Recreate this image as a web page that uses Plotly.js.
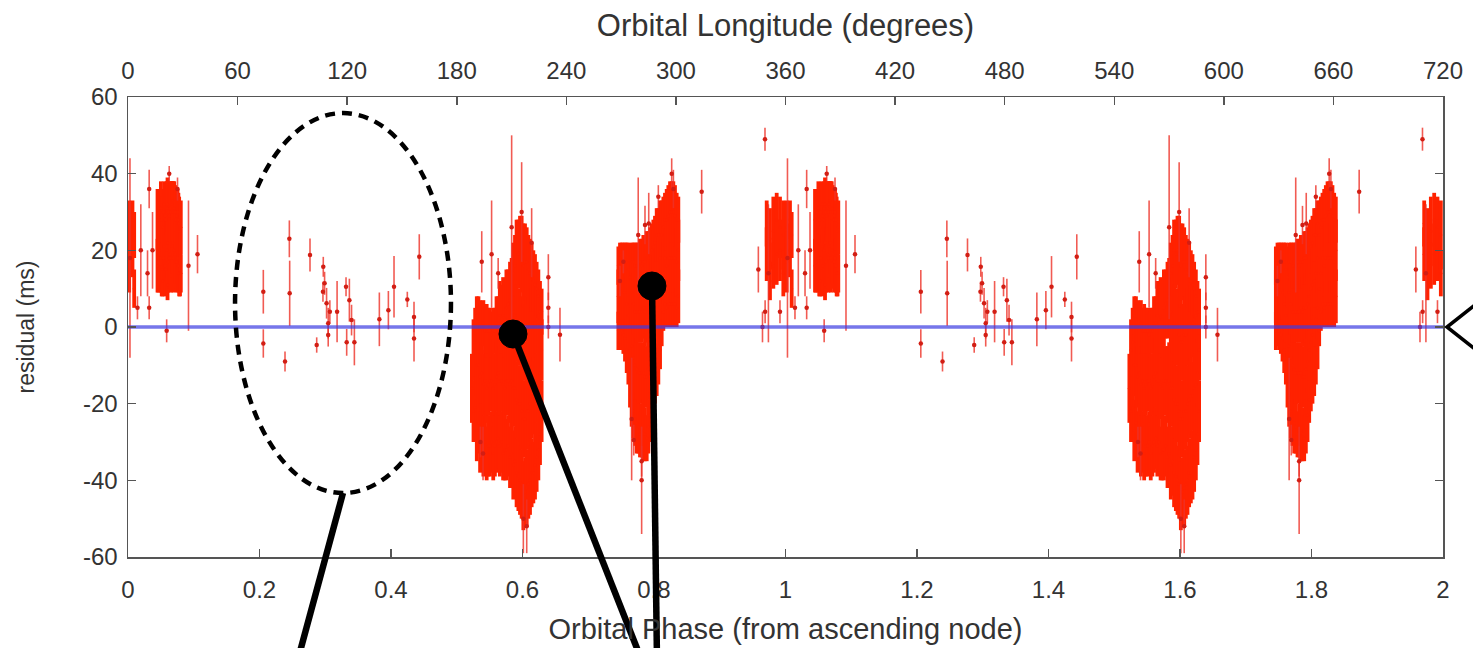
<!DOCTYPE html>
<html>
<head>
<meta charset="utf-8">
<script src="https://cdn.plot.ly/plotly-3.0.1.min.js"></script>
<style>
  html, body { margin: 0; padding: 0; background: #ffffff; }
  #chart { width: 1473px; height: 648px; }
</style>
</head>
<body>
<div id="chart"></div>
<script>
// ---------------- DATA (one orbital cycle, phase 0..1; the figure shows it twice) ----------------
// Densely sampled timing residuals (solid red masses)
const densePhase = [
  // cluster around phase 0 (wraps 0.97 .. 0.08)
  0.9714,0.9714, 0.9764,0.9764, 0.9815,0.9815, 0.9866,0.9866, 0.9916,0.9916, 0.9967,0.9967,
  0.0018,0.0018, 0.0068,0.0068, 0.0094,0.0094,
  0.0449,0.0449, 0.0462,0.0462, 0.0475,0.0475, 0.0500,0.0500, 0.0513,0.0513, 0.0526,0.0526,
  0.0538,0.0538, 0.0551,0.0551, 0.0563,0.0563, 0.0576,0.0576, 0.0589,0.0589,
  0.0601,0.0601,0.0601, 0.0614,0.0614, 0.0627,0.0627, 0.0640,0.0640, 0.0652,0.0652,
  0.0665,0.0665, 0.0678,0.0678, 0.0690,0.0690, 0.0703,0.0703, 0.0716,0.0716,
  0.0728,0.0728, 0.0741,0.0741, 0.0753,0.0753, 0.0766,0.0766, 0.0778,0.0778,
  0.0791,0.0791, 0.0803,0.0803,
  // cluster around phase 0.58
  0.523, 0.5255,0.5255, 0.528,0.528, 0.5305,0.5305,0.5305, 0.533,0.533,0.533,
  0.5355,0.5355,0.5355, 0.538,0.538,0.538, 0.5405,0.5405,0.5405, 0.543,0.543,0.543,
  0.5455,0.5455,0.5455, 0.548,0.548,0.548, 0.5505,0.5505,0.5505, 0.553,0.553,0.553,
  0.5555,0.5555,0.5555, 0.558,0.558,0.558, 0.5605,0.5605,0.5605, 0.563,0.563,0.563,
  0.5655,0.5655,0.5655, 0.568,0.568,0.568, 0.5705,0.5705,0.5705, 0.573,0.573,0.573,
  0.5755,0.5755,0.5755, 0.578,0.578,0.578, 0.581,0.581,0.581, 0.5835,0.5835,0.5835,
  0.586,0.586,0.586,0.586, 0.5886,0.5886,0.5886,0.5886, 0.591,0.591,0.591,0.591,
  0.5937,0.5937,0.5937,0.5937, 0.5962,0.5962,0.5962,0.5962, 0.5987,0.5987,0.5987,0.5987,
  0.6013,0.6013,0.6013,0.6013, 0.6038,0.6038,0.6038,0.6038, 0.6064,0.6064,0.6064,0.6064,
  0.6089,0.6089,0.6089,0.6089, 0.6114,0.6114,0.6114,0.6114, 0.6139,0.6139,0.6139,0.6139,
  0.6165,0.6165,0.6165,0.6165, 0.619,0.619,0.619,0.619, 0.6215,0.6215,0.6215,0.6215,
  0.6241,0.6241,0.6241,0.6241, 0.6266,0.6266,0.6266, 0.6291,0.6291,0.6291,
  // cluster around phase 0.79
  0.7458,0.7458,0.7458, 0.7483,0.7483,0.7483, 0.7508,0.7508,0.7508, 0.7534,0.7534,0.7534,
  0.7559,0.7559,0.7559, 0.7585,0.7585,0.7585, 0.761,0.761,0.761, 0.7635,0.7635,0.7635,
  0.766,0.766,0.766,0.766, 0.7686,0.7686,0.7686,0.7686, 0.7711,0.7711,0.7711,0.7711,
  0.7737,0.7737,0.7737,0.7737, 0.7762,0.7762,0.7762,0.7762, 0.7787,0.7787,0.7787,0.7787,
  0.7812,0.7812,0.7812,0.7812, 0.7838,0.7838,0.7838,0.7838, 0.7863,0.7863,0.7863,0.7863,
  0.7889,0.7889,0.7889,0.7889, 0.7914,0.7914,0.7914,0.7914, 0.794,0.794,0.794,0.794,
  0.7965,0.7965,0.7965,0.7965, 0.799,0.799,0.799,0.799, 0.8015,0.8015,0.8015,0.8015,
  0.8041,0.8041,0.8041,0.8041, 0.8066,0.8066,0.8066,0.8066, 0.8092,0.8092,0.8092,0.8092,
  0.8117,0.8117,0.8117, 0.8142,0.8142,0.8142, 0.8167,0.8167,0.8167, 0.8193,0.8193,0.8193,
  0.8218,0.8218,0.8218, 0.8244,0.8244,0.8244, 0.8269,0.8269,0.8269, 0.8294,0.8294,0.8294,
  0.8319,0.8319,0.8319, 0.8345,0.8345,0.8345, 0.837,0.837,0.837
];
const denseResid = [
  27,19, 23,12, 25,16, 28,19, 26,20, 24,14,
  26,17, 28,20, 24,10,
  28,16, 29,17, 30,20, 31,18, 28,15, 26,12,
  30,18, 32,21, 29,16, 28,15, 31,20,
  32,22,11, 30,17, 29,18, 31,19, 30,18,
  32,21, 33,22, 30,18, 31,20, 30,19,
  28,17, 29,17, 30,18, 28,16, 27,14,
  25,14, 26,14,

  -16, -22,-6, -21,-4, -27,-10,3, -25,-10,2,
  -30,-13,0, -28,-12,0, -31,-15,1, -30,-14,-1,
  -33,-16,-1, -31,-15,-1, -31,-14,-1, -30,-14,-2,
  -33,-16,-1, -31,-15,-1, -30,-13,1, -29,-12,1,
  -31,-14,3, -30,-14,2, -33,-15,3, -32,-16,2,
  -32,-14,5, -31,-14,6, -34,-15,7, -33,-14,8,
  -36,-16,4,14, -35,-16,3,16, -38,-19,1,20,
  -39,-20,0,19, -40,-20,0,20, -41,-22,-2,19,
  -44,-24,-4,16, -43,-24,-4,17, -42,-22,-2,17,
  -41,-22,-2,15, -40,-20,0,14, -38,-19,0,13,
  -38,-18,1,12, -36,-18,1,11, -34,-16,2,10,
  -32,-15,3,8, -28,-12,4, -22,-6,4,

  -1,8,16, 0,10,18, -1,9,17, -2,9,17,
  -3,9,17, -6,6,17, -9,3,15, -14,0,13,
  -19,-5,9,17, -22,-8,6,17, -24,-10,4,16,
  -25,-11,4,16, -26,-12,4,16, -28,-12,4,17,
  -27,-12,4,16, -27,-12,5,17, -28,-13,4,17,
  -29,-13,5,18, -26,-11,5,18, -23,-9,6,19,
  -19,-6,8,20, -16,-4,10,21, -14,-2,11,22,
  -12,0,12,24, -10,2,14,24, -6,5,18,27,
  -1,10,24, 4,14,26, 6,18,28, 5,16,28,
  6,18,29, 6,18,30, 6,18,30, 6,18,30,
  6,18,29, 5,17,28, 8,20,28
];
const denseErr = [
  6,7, 8,5, 9,6, 7,8, 8,8, 9,6,
  7,8, 5,7, 6,5,
  8,7, 7,8, 6,8, 7,9, 8,7, 8,4,
  6,9, 6,9, 7,8, 8,6, 7,8,
  7,9,4, 8,8, 8,8, 7,9, 8,9,
  6,8, 5,8, 8,9, 7,8, 7,8,
  8,7, 7,8, 6,7, 7,7, 7,6,
  7,6, 7,5,

  9, 8,8, 9,9, 8,8,5, 8,8,6,
  8,8,7, 8,8,6, 8,8,6, 8,8,6,
  7,9,7, 8,8,6, 8,8,6, 8,8,6,
  7,9,6, 8,8,6, 8,9,7, 8,9,7,
  8,9,9, 8,8,9, 7,9,10, 8,8,10,
  8,9,10, 8,9,9, 8,10,10, 9,10,10,
  9,10,10,8, 9,10,10,8, 9,10,10,8,
  9,10,10,9, 9,10,10,9, 9,10,10,10,
  9,10,10,11, 9,10,10,10, 10,10,10,9,
  9,10,10,9, 9,10,10,9, 9,10,10,9,
  8,10,10,8, 9,9,9,8, 9,9,9,7,
  8,9,9,7, 8,9,8, 8,8,6,

  5,7,5, 5,7,4, 5,7,5, 5,7,5,
  6,7,5, 6,7,5, 6,7,7, 7,8,8,
  7,8,8,5, 7,8,8,5, 7,8,8,6,
  8,8,8,6, 7,8,8,6, 6,8,8,6,
  7,8,8,7, 8,8,8,7, 7,8,9,7,
  6,8,9,7, 7,8,9,7, 7,8,9,7,
  6,8,9,7, 6,8,9,7, 6,7,9,7,
  6,7,9,7, 5,7,9,7, 5,8,9,6,
  4,8,9, 5,8,8, 6,8,7, 5,8,8,
  6,9,8, 6,9,8, 6,9,8, 6,9,8,
  6,9,8, 5,9,7, 7,8,6
];

// Individually visible residuals (thin error bars)
const sparsePhase = [
  0.9688, 0.9587, 0.9650, 0.9690, 0.9740, 0.9916, 0.0030, 0.0144, 0.0195, 0.0297, 0.0322, 0.0322,
  0.0373, 0.0588, 0.0627, 0.0753, 0.0920, 0.1057,
  0.2058, 0.2058, 0.2388, 0.2454, 0.2459, 0.2768, 0.2870, 0.2970, 0.2965, 0.2990, 0.3020, 0.3045,
  0.3045, 0.3070, 0.3180, 0.3316, 0.3326, 0.3367, 0.3400, 0.3443, 0.3823, 0.3960, 0.4046, 0.4248,
  0.4350, 0.4350, 0.4430,
  0.5380, 0.5360, 0.5400, 0.5530, 0.5630, 0.5835, 0.5987, 0.6013, 0.6064, 0.6139, 0.6393, 0.6393,
  0.6393, 0.6570,
  0.7482, 0.7534, 0.7660, 0.7692, 0.7760, 0.7812, 0.7812, 0.7863, 0.7920, 0.8066, 0.8269, 0.8295,
  0.8725
];
const sparseResid = [
  49, 15, 0, 4, 14, 4, 18, 5, 20, 14, 36, 5,
  20, -1, 40, 36, 16, 19,
  9.2, -4.3, -9, 23, 8.8, 18.8, -4.7, 15.7, 9.2, 11.4, 6.2, 1,
  -2.1, 4, 4, 10.5, -4, 7, 1.8, -4, 2, 4.4, 10.5, 7.2,
  -3, 2.6, 18.3,
  17, -30, -33, 19, 14, 26, 30, -50, -52, 22, 13, 5,
  0, -2,
  12, 17, -24, -29.5, 24, -35, -40, 26.6, 27, 34, 40, 36,
  35.3
];
const sparseErr = [
  3, 6, 4, 3, 18, 3, 26, 3, 12, 6, 5, 3,
  10, 3, 2, 3, 17, 5,
  5.7, 3.7, 2.6, 4.8, 8.5, 4.3, 2, 2.6, 2.6, 3, 4, 4,
  3, 3, 8, 2.5, 3.5, 5.6, 4, 6, 7, 5, 8, 2,
  6, 4, 5.9,
  8, 4, 7, 14, 4, 24, 13, 9, 7, 9, 6, 4,
  3, 7,
  4, 3, 16, 4, 15, 4, 14, 5, 8, 3, 4, 5,
  5.7
];

// Zero-residual reference line, drawn against the longitude axis
const modelLongitude = [0, 720];
const modelResid = [0, 0];

// Tick labels
const phaseTicks = [0, 0.2, 0.4, 0.6, 0.8, 1, 1.2, 1.4, 1.6, 1.8, 2];
const phaseTickText = ['0', '0.2', '0.4', '0.6', '0.8', '1', '1.2', '1.4', '1.6', '1.8', '2'];
const lonTicks = [0, 60, 120, 180, 240, 300, 360, 420, 480, 540, 600, 660, 720];
const lonTickText = ['0', '60', '120', '180', '240', '300', '360', '420', '480', '540', '600', '660', '720'];
const residTicks = [-60, -40, -20, 0, 20, 40, 60];
const residTickText = ['-60', '-40', '-20', '0', '20', '40', '60'];

// ---------------- PLOT ----------------
const RED = 'rgb(255,34,0)';
const cycles = [0, 1];
const traces = [];
cycles.forEach(function (c) {
  traces.push({
    type: 'scatter', mode: 'markers', xaxis: 'x', yaxis: 'y',
    x: densePhase.map(function (p) { return p + c; }), y: denseResid,
    error_y: { type: 'data', array: denseErr, visible: true, color: RED, thickness: 3.8, width: 0 },
    marker: { size: 3, color: RED },
    hoverinfo: 'skip', showlegend: false
  });
  traces.push({
    type: 'scatter', mode: 'markers', xaxis: 'x', yaxis: 'y',
    x: sparsePhase.map(function (p) { return p + c; }), y: sparseResid,
    error_y: { type: 'data', array: sparseErr, visible: true, color: 'rgba(238,50,40,0.8)', thickness: 1.6, width: 0 },
    marker: { size: 4.5, color: 'rgb(210,30,20)' },
    hoverinfo: 'skip', showlegend: false
  });
});
traces.push({
  type: 'scatter', mode: 'lines', xaxis: 'x2', yaxis: 'y',
  x: modelLongitude, y: modelResid,
  line: { color: 'rgba(60,60,225,0.7)', width: 3.5 },
  hoverinfo: 'skip', showlegend: false
});

const FONT = 'Liberation Sans, Arial, Helvetica, sans-serif';
const axisCommon = {
  showgrid: false, zeroline: false, showline: true, linecolor: '#555', linewidth: 1.5,
  ticks: 'inside', ticklen: 8, tickwidth: 1.5, tickcolor: '#555',
  tickfont: { family: FONT, size: 24, color: '#333' }
};

const layout = {
  width: 1473, height: 648,
  margin: { l: 128, r: 30, t: 97, b: 91 },
  paper_bgcolor: '#ffffff', plot_bgcolor: '#ffffff',
  font: { family: FONT, color: '#333' },
  showlegend: false,
  xaxis: Object.assign({}, axisCommon, {
    range: [0, 2], tickvals: phaseTicks, ticktext: phaseTickText, mirror: false,
    ticklabelstandoff: 11,
    title: { text: 'Orbital Phase (from ascending node)', font: { family: FONT, size: 29, color: '#333' }, standoff: 16 }
  }),
  xaxis2: Object.assign({}, axisCommon, {
    range: [0, 720], overlaying: 'x', side: 'top', anchor: 'y',
    tickvals: lonTicks, ticktext: lonTickText, ticklabelstandoff: 7,
    title: { text: 'Orbital Longitude (degrees)', font: { family: FONT, size: 31, color: '#333' }, standoff: 11 }
  }),
  yaxis: Object.assign({}, axisCommon, {
    range: [-60, 60], tickvals: residTicks, ticktext: residTickText, mirror: 'ticks',
    ticklabelstandoff: 4,
    title: { text: 'residual (ms)', font: { family: FONT, size: 23, color: '#333' }, standoff: 42 }
  }),
  shapes: [
    // dashed ellipse marking the sparse region
    { type: 'circle', xref: 'paper', yref: 'paper', x0: 0.0814, x1: 0.2456, y0: 0.139, y1: 0.965,
      line: { color: '#000', width: 4.5, dash: '10px,7px' } },
    // pointer lines
    { type: 'line', xref: 'paper', yref: 'paper', x0: 0.1635, y0: 0.1391, x1: 0.1285, y1: -0.23,
      line: { color: '#000', width: 6.5 } },
    { type: 'line', xref: 'paper', yref: 'paper', x0: 0.2928, y0: 0.4848, x1: 0.3914, y1: -0.23,
      line: { color: '#000', width: 6.5 } },
    { type: 'line', xref: 'paper', yref: 'paper', x0: 0.3985, y0: 0.5891, x1: 0.4023, y1: -0.23,
      line: { color: '#000', width: 6.5 } },
    // pointer dots
    { type: 'circle', xref: 'paper', yref: 'paper', x0: 0.2821, x1: 0.3034, y0: 0.4543, y1: 0.5152,
      fillcolor: '#000', line: { color: '#000', width: 1 } },
    { type: 'circle', xref: 'paper', yref: 'paper', x0: 0.3878, x1: 0.4091, y0: 0.5587, y1: 0.6196,
      fillcolor: '#000', line: { color: '#000', width: 1 } },
    // chevron at the right edge
    { type: 'path', xref: 'paper', yref: 'paper', path: 'M1.0243,0.5478 L1.003,0.5 L1.0243,0.4522',
      line: { color: '#000', width: 3.5 } }
  ]
};

Plotly.newPlot('chart', traces, layout, { staticPlot: true, displayModeBar: false });
</script>
</body>
</html>
